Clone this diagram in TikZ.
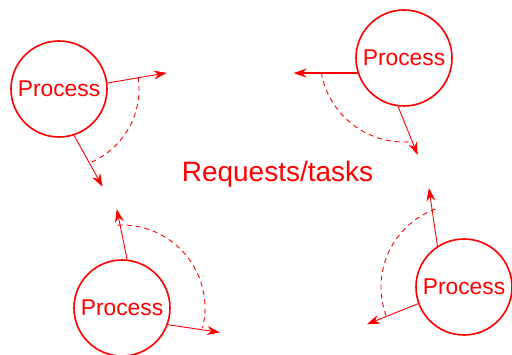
\documentclass[tikz,border=0pt]{standalone}
\usepackage{fontspec}
\setmainfont{Liberation Sans}
\usetikzlibrary{arrows.meta}

\begin{document}
\begin{tikzpicture}[x = 1pt, y = 1pt,
		proc/.style = {circle, draw, red, line width = 1.6pt, minimum size = 96pt, inner sep = 0pt, font = \fontsize{22.8}{22.8}\selectfont},
		req/.style = {red, line width = 0.9pt, -{Stealth[length = 13pt, width = 9pt]}},
		sweep/.style = {red, line width = 0.9pt, dash pattern = on 5pt off 4pt}]
	
		\useasboundingbox (0, 0) rectangle (512, 355);
	
		\node[proc] (p1) at (59, 266) {Process};
		\node[proc] (p2) at (404, 297) {Process};
		\node[proc] (p3) at (122, 47) {Process};
		\node[proc] (p4) at (464, 68) {Process};
		
		\node[red, anchor = base, font = \fontsize{28}{28}\selectfont] (tasks) at (277.5, 173) {Requests/tasks};
		
		% free ends of the requests
		\path (p1) ++(8.5 : 109) coordinate (p1a);
		\path (p1) ++(-66 : 107) coordinate (p1b);
		\path (p2.198) ++(-64, 0) coordinate (p2a);
		\path (p2) ++(-82 : 98) coordinate (p2b);
		\path (p3) ++(93 : 99) coordinate (p3a);
		\path (p3) ++(-14 : 101) coordinate (p3b);
		\path (p4) ++(109.5 : 105) coordinate (p4a);
		\path (p4) ++(201 : 104) coordinate (p4b);
		
		\draw[req] (p1.7) -- (p1a);
		\draw[req] (p1.288) -- (p1b);
		\draw[req, line width = 1.8pt] (p2.198) -- (p2a);
		\draw[req] (p2.263) -- (p2b);
		\draw[req] (p3.84) -- (p3a);
		\draw[req] (p3.340) -- (p3b);
		\draw[req] (p4.123) -- (p4a);
		\draw[req] (p4.200) -- (p4b);
		
		\draw[sweep] (p1) ++(8.5 : 80) arc[start angle = 8.5, end angle = -66, radius = 80];
		\draw[sweep] (p2) ++(190 : 84) arc[start angle = 190, end angle = 276, radius = 84];
		\draw[sweep] (p3) ++(93 : 83) arc[start angle = 93, end angle = -14, radius = 83];
		\draw[sweep] (p4) ++(110 : 83) arc[start angle = 110, end angle = 200, radius = 83];
		
	\end{tikzpicture}
\end{document}
